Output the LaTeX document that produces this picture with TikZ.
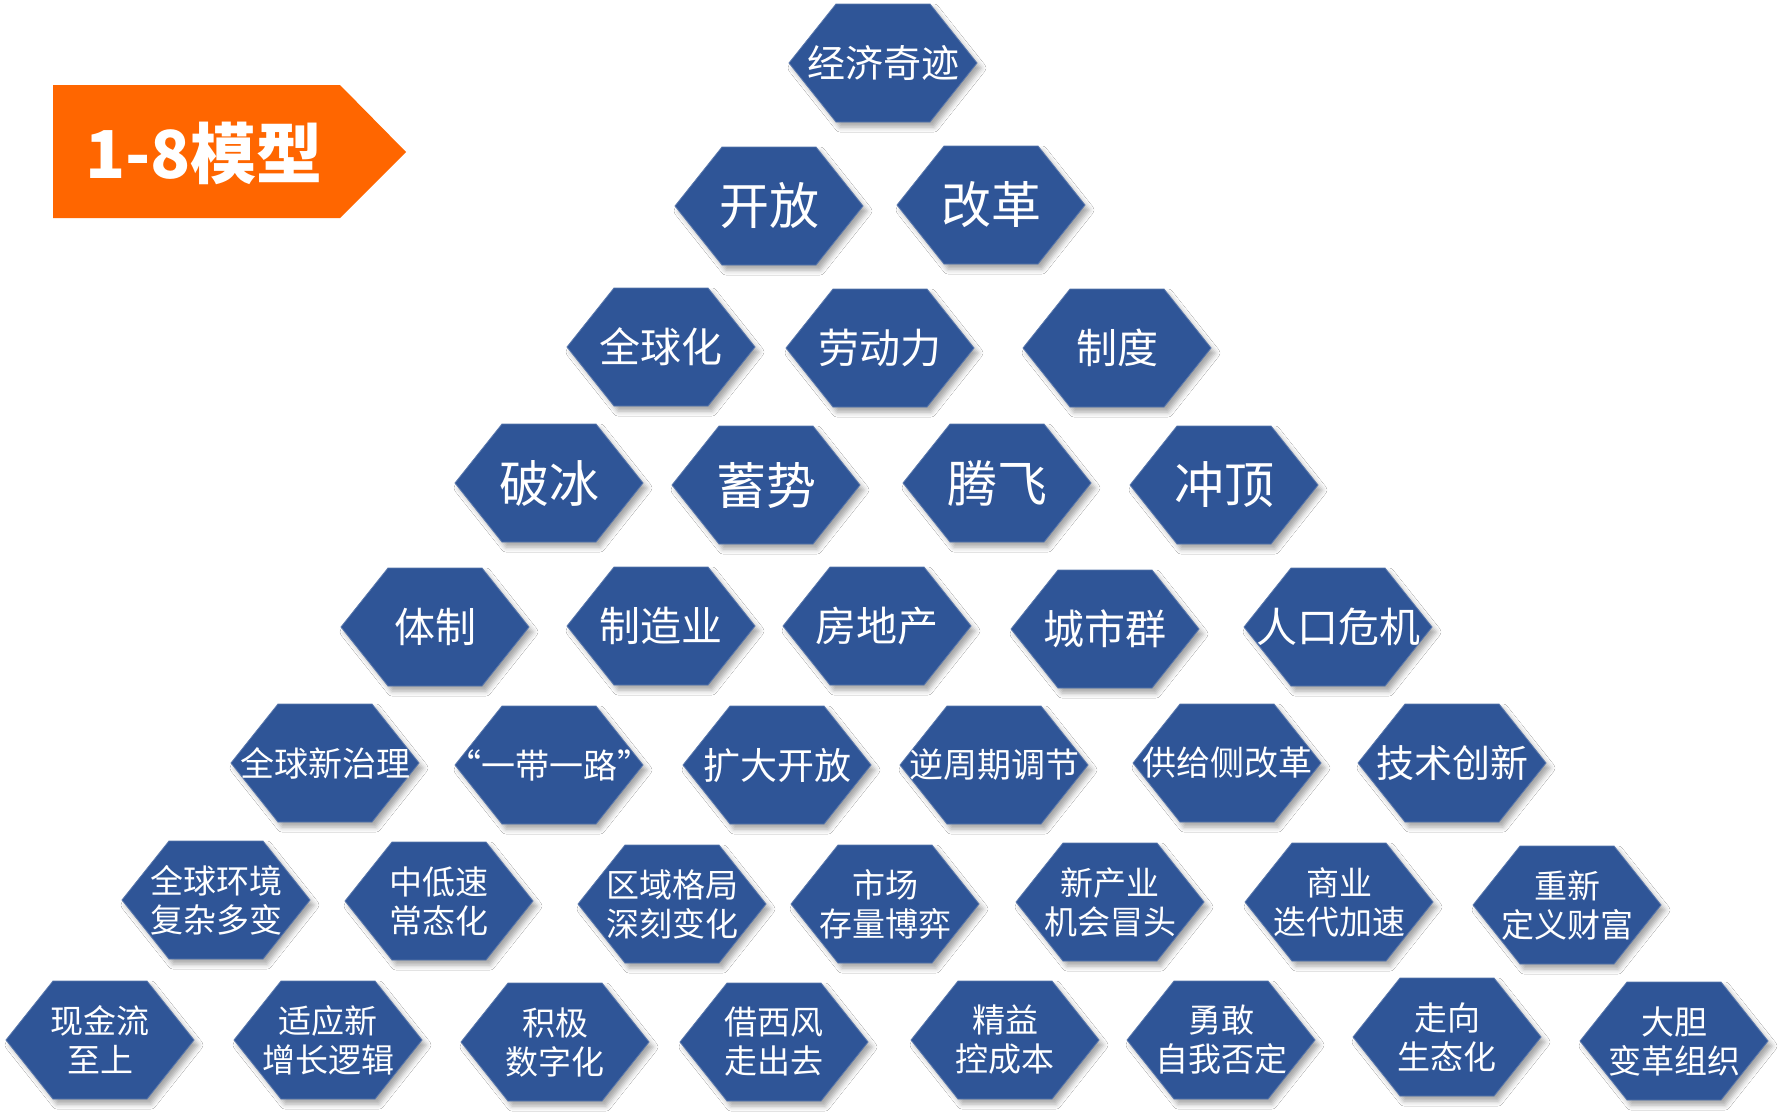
\documentclass[tikz,border=0pt]{standalone}
\usepackage{fontspec}
\setmainfont{Noto Sans CJK SC}
\usetikzlibrary{shadows.blur}
\definecolor{hexblue}{RGB}{47,85,151}
\definecolor{bannerorange}{RGB}{255,102,0}
\newcommand\fsXL{\fontsize{50pt}{58pt}\selectfont}
\newcommand\fsL{\fontsize{41pt}{48pt}\selectfont}
\newcommand\fsM{\fontsize{38pt}{44pt}\selectfont}
\newcommand\fsN{\fontsize{37pt}{43pt}\selectfont}
\newcommand\fsS{\fontsize{34pt}{40pt}\selectfont}
\newcommand\fsT{\fontsize{33pt}{39pt}\selectfont}
\tikzset{
  hexfill/.style={fill=hexblue, draw=hexblue!80!white, line width=0.8pt,
    blur shadow={shadow xshift=4pt, shadow yshift=-5pt, shadow blur radius=5pt, shadow opacity=35}},
  hextext/.style={text=white, align=center, inner sep=0pt},
  bannertext/.style={text=white, inner sep=0pt, font=\fontsize{66pt}{72pt}\selectfont\bfseries},
}
\newcommand\hexcell[5]{%
  \coordinate (#1) at (#2,#3);
  \path[hexfill] ([shift={(-94,0)}]#1) -- ([shift={(-47,-59)}]#1) -- ([shift={(47,-59)}]#1)
     -- ([shift={(94,0)}]#1) -- ([shift={(47,59)}]#1) -- ([shift={(-47,59)}]#1) -- cycle;
  \node[hextext, font=#4] (#1-t) at (#1) {#5};%
}
\begin{document}
\begin{tikzpicture}[x=1pt, y=-1pt]
\useasboundingbox[fill=white] (0,0) rectangle (1786,1119);
% banner
\fill[bannerorange] (53,85) -- (340,85) -- (406,152) -- (340,218) -- (53,218) -- cycle;
\node[bannertext] (title) at (204,153) {1-8模型};
% row 1
\hexcell{jjqj}{883}{63}{\fsM}{经济奇迹}
% row 2
\hexcell{kf}{769}{206}{\fsXL}{开放}
\hexcell{gg}{991}{205}{\fsXL}{改革}
% row 3
\hexcell{qqh}{661}{347}{\fsL}{全球化}
\hexcell{ldl}{880}{348}{\fsL}{劳动力}
\hexcell{zd}{1117}{348}{\fsL}{制度}
% row 4
\hexcell{pb}{549}{483}{\fsXL}{破冰}
\hexcell{xs}{766}{485}{\fsXL}{蓄势}
\hexcell{tf}{997}{483}{\fsXL}{腾飞}
\hexcell{cd}{1224}{485}{\fsXL}{冲顶}
% row 5
\hexcell{tz}{435}{627}{\fsL}{体制}
\hexcell{zzy}{661}{626}{\fsL}{制造业}
\hexcell{fdc}{877}{626}{\fsL}{房地产}
\hexcell{csq}{1105}{629}{\fsL}{城市群}
\hexcell{rkwj}{1338}{627}{\fsL}{人口危机}
% row 6
\hexcell{qqxzl}{325}{763}{\fsS}{全球新治理}
\hexcell{ydyl}{549}{765}{\fsS}{“一带一路”}
\hexcell{kdkf}{777}{765}{\fsN}{扩大开放}
\hexcell{nzq}{994}{765}{\fsS}{逆周期调节}
\hexcell{gjc}{1227}{763}{\fsS}{供给侧改革}
\hexcell{jscx}{1452}{763}{\fsM}{技术创新}
% row 7
\hexcell{qqhj}{216}{900}{\fsT}{全球环境\\复杂多变}
\hexcell{zds}{439}{901}{\fsT}{中低速\\常态化}
\hexcell{qygj}{672}{904}{\fsT}{区域格局\\深刻变化}
\hexcell{sc}{885}{904}{\fsT}{市场\\存量博弈}
\hexcell{xcy}{1110}{902}{\fsT}{新产业\\机会冒头}
\hexcell{sy}{1339}{902}{\fsT}{商业\\迭代加速}
\hexcell{cx}{1567}{905}{\fsT}{重新\\定义财富}
% row 8
\hexcell{xjl}{100}{1040}{\fsT}{现金流\\至上}
\hexcell{syx}{328}{1040}{\fsT}{适应新\\增长逻辑}
\hexcell{jj}{555}{1042}{\fsT}{积极\\数字化}
\hexcell{jxf}{774}{1042}{\fsT}{借西风\\走出去}
\hexcell{jy}{1005}{1040}{\fsT}{精益\\控成本}
\hexcell{yg}{1221}{1040}{\fsT}{勇敢\\自我否定}
\hexcell{zx}{1447}{1037}{\fsT}{走向\\生态化}
\hexcell{dd}{1674}{1041}{\fsT}{大胆\\变革组织}
\end{tikzpicture}
\end{document}
